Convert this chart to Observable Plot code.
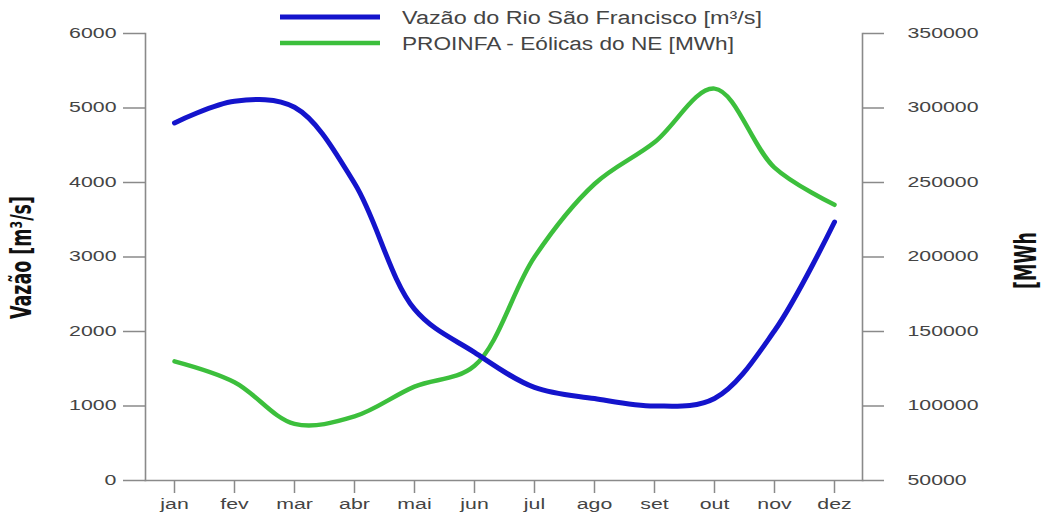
<!DOCTYPE html>
<html><head><meta charset="utf-8">
<script src="https://cdn.jsdelivr.net/npm/d3@7"></script>
<script src="https://cdn.jsdelivr.net/npm/@observablehq/plot@0.6"></script>
<style>
body{margin:0;background:#fff;}
#wrap{position:relative;width:1049px;height:515px;overflow:hidden;}
#legend{position:absolute;left:0;top:0;pointer-events:none;}
</style></head><body><div id="wrap"></div>
<script>
const months = ["jan","fev","mar","abr","mai","jun","jul","ago","set","out","nov","dez"];
const vazao = [4800, 5090, 5010, 3990, 2300, 1720, 1250, 1100, 1000, 1100, 2010, 3470];
const eolicas = [130000, 116000, 88000, 93000, 113000, 127000, 200000, 249000, 277000, 313000, 260000, 235000];
const leftTicks = [0, 1000, 2000, 3000, 4000, 5000, 6000];
const rightTicks = [50000, 100000, 150000, 200000, 250000, 300000, 350000];
const legendLabels = ["Vazão do Rio São Francisco [m³/s]", "PROINFA - Eólicas do NE [MWh]"];
const leftTitle = "Vazão [m³/s]";
const rightTitle = "[MWh";
const colors = ["#1414cc", "#3cbf3c"];

const toLeft = v => (v - 50000) / 50;
const fromLeft = v => v * 50 + 50000;
const data = months.map((m, i) => ({month: m, vazao: vazao[i], eolicas: eolicas[i]}));

const font = "'Liberation Sans', Arial, Helvetica, sans-serif";
const narrow = "'Liberation Sans Narrow', 'DejaVu Sans Condensed', sans-serif";
const axisGray = "#8a8a8a";
const textGray = "#444";

const chart = Plot.plot({
  width: 1049, height: 515,
  marginTop: 33, marginBottom: 35, marginLeft: 145, marginRight: 187,
  style: {fontFamily: font, fontSize: "14px", color: textGray, background: "white"},
  x: {type: "point", domain: months, padding: 0.475},
  y: {domain: [0, 6000]},
  marks: [
    Plot.frame({anchor: "left", stroke: axisGray, strokeWidth: 1.6}),
    Plot.frame({anchor: "right", stroke: axisGray, strokeWidth: 1.6}),
    Plot.frame({anchor: "bottom", stroke: axisGray, strokeWidth: 1.6}),
    Plot.axisX({tickSize: 13, tickPadding: 6, stroke: axisGray, strokeWidth: 1.5, fill: textGray, label: null}),
    Plot.axisY(leftTicks, {anchor: "left", tickSize: 22, tickPadding: 7, stroke: axisGray, strokeWidth: 1.5, fill: textGray, label: null, tickFormat: d => String(d)}),
    Plot.axisY(rightTicks.map(toLeft), {anchor: "right", tickSize: 21, tickPadding: 24, stroke: axisGray, strokeWidth: 1.5, fill: textGray, label: null, tickFormat: d => String(Math.round(fromLeft(d)))}),
    Plot.line(data, {x: "month", y: d => toLeft(d.eolicas), stroke: colors[1], strokeWidth: 4.5, curve: "catmull-rom"}),
    Plot.line(data, {x: "month", y: "vazao", stroke: colors[0], strokeWidth: 5, curve: "catmull-rom"}),
    Plot.text([leftTitle], {text: d => d, frameAnchor: "left", dx: -123, dy: 62, rotate: -90, textAnchor: "start", lineAnchor: "middle", fontSize: 28, fontWeight: "bold", fontFamily: narrow, fill: "#111"}),
    Plot.text([rightTitle], {text: d => d, frameAnchor: "right", dx: 164, dy: 32, rotate: -90, textAnchor: "start", lineAnchor: "middle", fontSize: 30, fontWeight: "bold", fontFamily: narrow, fill: "#111"})
  ]
});
const wrap = document.getElementById("wrap");
wrap.appendChild(chart);

// stretch tick labels horizontally like the reference
d3.select(chart).selectAll('g[aria-label$="tick label"] text').each(function() {
  const len = this.getComputedTextLength();
  this.setAttribute("textLength", (len * 1.52).toFixed(1));
  this.setAttribute("lengthAdjust", "spacingAndGlyphs");
});
d3.select(chart).selectAll("text").each(function() {
  if (this.textContent === leftTitle) { this.setAttribute("textLength", 123); this.setAttribute("lengthAdjust", "spacingAndGlyphs"); }
  if (this.textContent === rightTitle) { this.setAttribute("textLength", 57); this.setAttribute("lengthAdjust", "spacingAndGlyphs"); }
});

// legend
const lg = d3.select(wrap).append("svg").attr("id", "legend").attr("width", 1049).attr("height", 60);
const rows = [{y: 17, w: 5, len: 360}, {y: 43, w: 4.5, len: 332}];
legendLabels.forEach((lab, i) => {
  lg.append("line").attr("x1", 280).attr("x2", 380).attr("y1", rows[i].y).attr("y2", rows[i].y)
    .attr("stroke", colors[i]).attr("stroke-width", rows[i].w);
  lg.append("text").attr("x", 402).attr("y", rows[i].y + 7).text(lab)
    .attr("font-family", font).attr("font-size", 18).attr("fill", textGray)
    .attr("textLength", rows[i].len).attr("lengthAdjust", "spacingAndGlyphs");
});
</script></body></html>
